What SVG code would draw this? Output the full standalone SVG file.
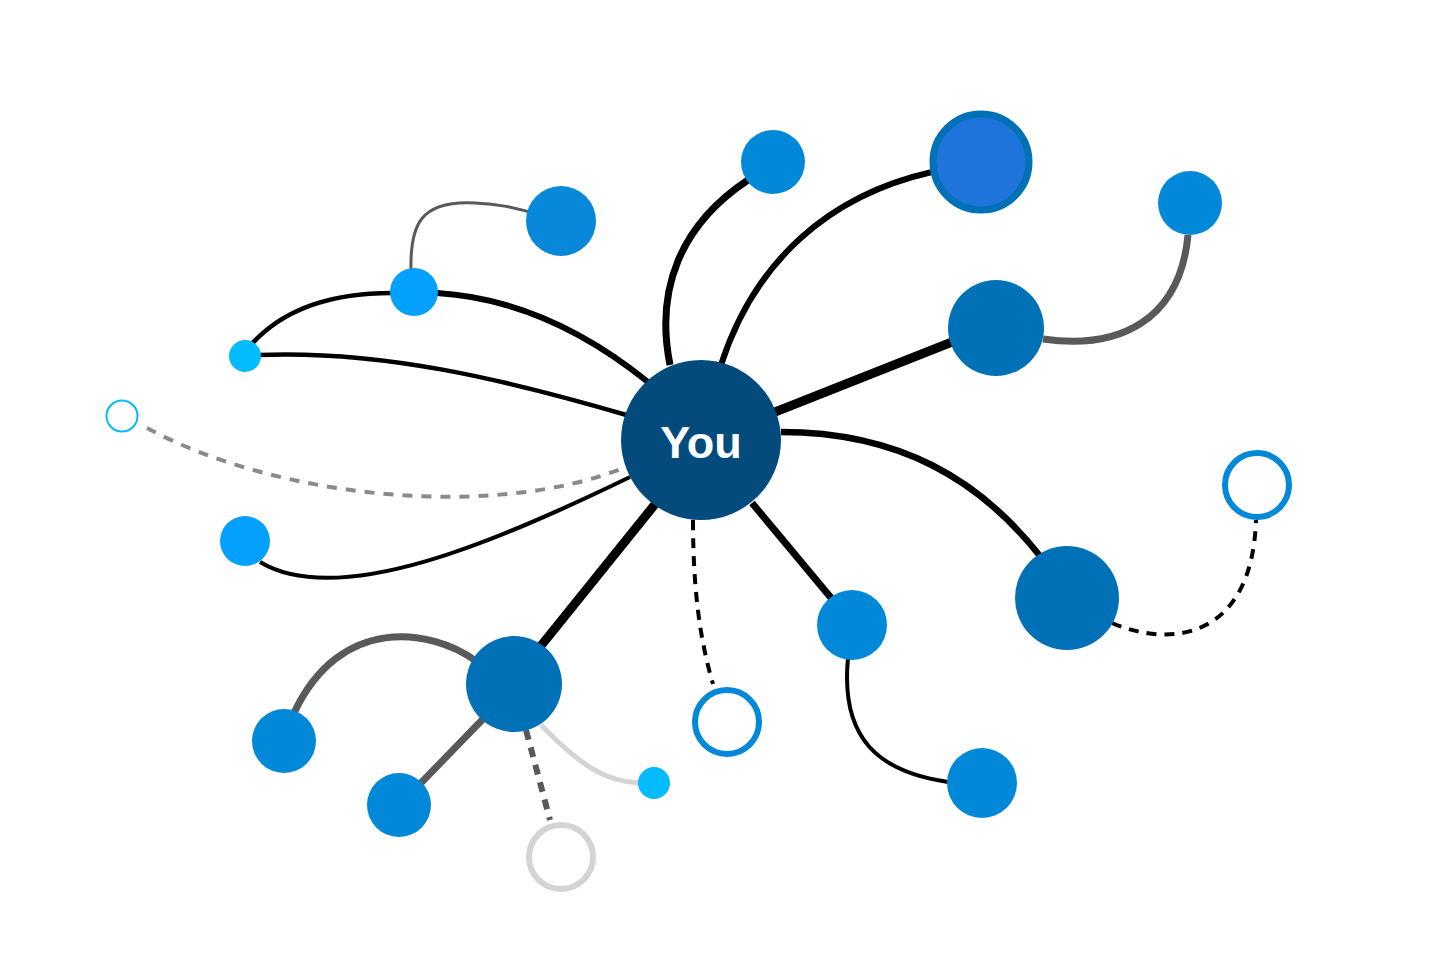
<svg xmlns="http://www.w3.org/2000/svg" width="1456" height="971" viewBox="0 0 1456 971">
<style>
.k{fill:none;stroke:#000;stroke-linecap:butt}
.g{fill:none;stroke:#595959}
.lg{fill:none;stroke:#d4d4d4}
.d{stroke-dasharray:10 8}
.n1{fill:#0288d8}
.n2{fill:#0071b7}
.n3{fill:#04a0fd}
.n4{fill:#04bbfe}
.ring{fill:#fff;stroke:#0288d8;stroke-width:6}
.lbl{font-family:"Liberation Sans",Arial,sans-serif;font-weight:bold;font-size:45px;fill:#fff}
</style>
<rect width="1456" height="971" fill="#fff"/>
<g id="connectors">
<path class="g" stroke-width="3" d="M411 270 C410 225 420 200 475 203 C500 204 515 208 530 212"/>
<path class="k" stroke-width="4.5" d="M250 346 C290 300 350 293 392 293"/>
<path class="k" stroke-width="6" d="M437 293 C520 298 590 335 648 382"/>
<path class="k" stroke-width="4.5" d="M258 355 C380 350 500 378 630 416"/>
<path fill="none" stroke="#8a8a8a" stroke-width="4" stroke-dasharray="10 9" d="M147 428 C280 500 500 520 628 466"/>
<path class="k" stroke-width="4" d="M630 477 C500 540 340 610 260 562"/>
<path class="k" stroke-width="9" d="M656 503 L540 647"/>
<path class="g" stroke-width="7" d="M476 661 C430 628 340 615 294 713"/>
<path class="g" stroke-width="7" d="M484 718 L418 786"/>
<path class="g d" stroke-width="6" d="M526 730 C534 760 542 790 550 820"/>
<path class="lg" stroke-width="5" d="M541 725 C580 765 605 782 640 783"/>
<path class="k d" stroke-width="4" d="M693 520 C693 590 700 640 713 684"/>
<path class="k" stroke-width="7" d="M752 503 L832 599"/>
<path class="k" stroke-width="4" d="M848 658 C840 740 880 772 948 782"/>
<path class="k" stroke-width="6.5" d="M781 432 C900 432 980 480 1040 556"/>
<path class="k d" stroke-width="4" d="M1112 623 C1170 648 1252 640 1256 520"/>
<path class="k" stroke-width="9" d="M775 412 L952 342"/>
<path class="g" stroke-width="7" d="M1043 339 C1120 350 1180 320 1188 235"/>
<path class="k" stroke-width="6" d="M721 365 C755 260 830 195 932 172"/>
<path class="k" stroke-width="7" d="M670 365 C655 290 680 225 748 180"/>
</g>
<g id="n-top1"><circle class="n1" cx="773" cy="162" r="32"/></g>
<g id="n-top2"><circle cx="981" cy="162" r="48" fill="#1f74db" stroke="#0071b7" stroke-width="7"/></g>
<g id="n-tr"><circle class="n1" cx="1190" cy="203" r="32"/></g>
<g id="n-r1"><circle class="n2" cx="996" cy="328" r="48"/></g>
<g id="n-r2"><circle class="n2" cx="1067" cy="598" r="52"/></g>
<g id="n-ring-r"><circle class="ring" cx="1257" cy="485" r="32"/></g>
<g id="n-br1"><circle class="n1" cx="852" cy="625" r="35"/></g>
<g id="n-br2"><circle class="n1" cx="982" cy="783" r="35"/></g>
<g id="n-ring-b"><circle class="ring" cx="727" cy="722" r="32"/></g>
<g id="n-bl"><circle class="n2" cx="514" cy="684" r="48"/></g>
<g id="n-bl1"><circle class="n1" cx="284" cy="741" r="32"/></g>
<g id="n-bl2"><circle class="n1" cx="399" cy="805" r="32"/></g>
<g id="n-bl3"><circle class="n4" cx="654" cy="783" r="16"/></g>
<g id="n-ring-g"><circle cx="561" cy="857" r="32" fill="#fff" stroke="#d4d4d4" stroke-width="6"/></g>
<g id="n-l1"><circle cx="561" cy="221" r="35" fill="#0788d9"/></g>
<g id="n-l2"><circle class="n3" cx="414" cy="292" r="24"/></g>
<g id="n-l3"><circle class="n4" cx="245" cy="356" r="16"/></g>
<g id="n-ring-l"><circle cx="122" cy="416" r="15.5" fill="#fff" stroke="#04bbfe" stroke-width="2"/></g>
<g id="n-l4"><circle class="n3" cx="245" cy="541" r="25"/></g>
<g id="you"><circle cx="701" cy="440" r="80" fill="#034b7d"/><text class="lbl" x="701" y="458" text-anchor="middle">You</text></g>
</svg>
